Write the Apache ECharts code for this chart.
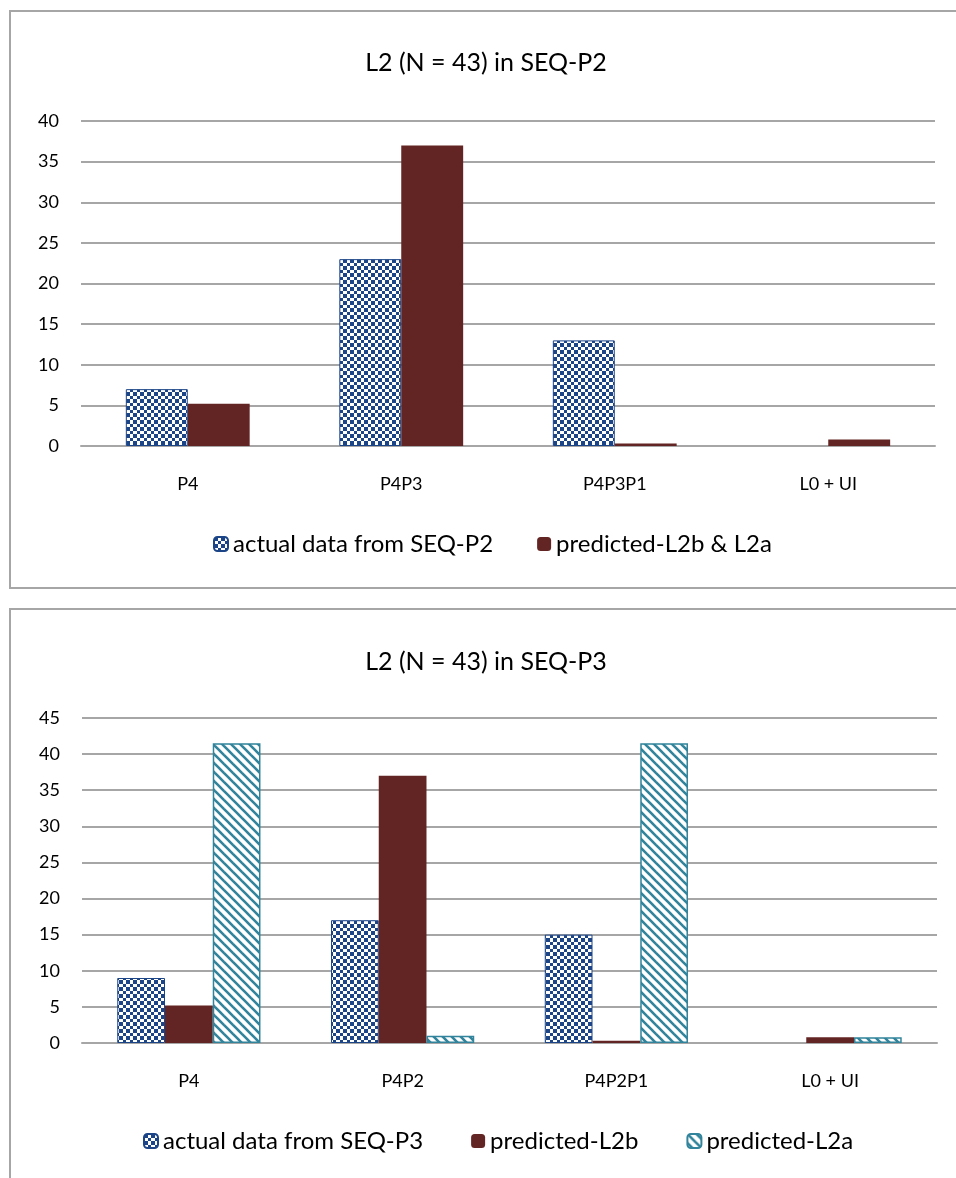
<!DOCTYPE html>
<html>
<head>
<meta charset="utf-8">
<script src="https://cdn.jsdelivr.net/npm/echarts@6/dist/echarts.min.js"></script>
<style>
html,body{margin:0;padding:0;background:#fff;}
#chart{width:956px;height:1178px;}
</style>
</head>
<body>
<div id="chart"></div>
<script>
// ---- data ----
var titles = ['L2 (N = 43) in SEQ-P2', 'L2 (N = 43) in SEQ-P3'];
var categories1 = ['P4', 'P4P3', 'P4P3P1', 'L0 + UI'];
var actual1 = [7, 23, 13, 0];
var predicted1 = [5.2, 37, 0.3, 0.8];
var categories2 = ['P4', 'P4P2', 'P4P2P1', 'L0 + UI'];
var actual2 = [9, 17, 15, 0];
var predictedL2b2 = [5.2, 37, 0.3, 0.8];
var predictedL2a2 = [41.5, 1, 41.5, 0.8];
var yTicks1 = {min: 0, max: 40, interval: 5};
var yTicks2 = {min: 0, max: 45, interval: 5};
var seriesNames1 = ['actual data from SEQ-P2', 'predicted-L2b & L2a'];
var seriesNames2 = ['actual data from SEQ-P3', 'predicted-L2b', 'predicted-L2a'];

// ---- styles ----
var NAVY = '#1c4587', RED = '#632523', TEAL = '#31849b', GRID = '#a6a6a6';
var FONT = 'Lato, "Open Sans", sans-serif';

function checkerPattern() {
  var c = document.createElement('canvas');
  c.width = 7; c.height = 7;
  var g = c.getContext('2d');
  g.fillStyle = '#fff'; g.fillRect(0, 0, 7, 7);
  g.fillStyle = NAVY;
  g.fillRect(0, 0, 4, 4); g.fillRect(4, 4, 3, 3);
  return {image: c, repeat: 'repeat'};
}
function stripePattern() {
  var s = 9;
  var c = document.createElement('canvas');
  c.width = s; c.height = s;
  var g = c.getContext('2d');
  g.fillStyle = '#fff'; g.fillRect(0, 0, s, s);
  g.strokeStyle = TEAL; g.lineWidth = 2.6;
  for (var k = -1; k <= 1; k++) {
    g.beginPath();
    g.moveTo(k * s - 1, -1);
    g.lineTo(k * s + s + 1, s + 1);
    g.stroke();
  }
  return {image: c, repeat: 'repeat'};
}
var checker = checkerPattern();
var stripes = stripePattern();

// hide the outline of zero-height bars
function withBorder(values) {
  return values.map(function (v) {
    return v === 0 ? {value: v, itemStyle: {borderWidth: 0}} : v;
  });
}

var chart = echarts.init(document.getElementById('chart'));

function yAxis(idx, t) {
  return {
    type: 'value', gridIndex: idx, min: t.min, max: t.max, interval: t.interval,
    axisLine: {show: false}, axisTick: {show: false},
    axisLabel: {fontSize: 18, color: '#000', fontFamily: FONT, margin: 22},
    splitLine: {lineStyle: {color: GRID, width: 2}}
  };
}
function xAxis(idx, cats) {
  return {
    type: 'category', gridIndex: idx, data: cats,
    axisLine: {lineStyle: {color: GRID, width: 2}}, axisTick: {show: false},
    axisLabel: {fontSize: 18, color: '#000', fontFamily: FONT, margin: 29}
  };
}
var legendText = {fontSize: 24, color: '#000', fontFamily: FONT};
var titleText = {fontSize: 25, fontWeight: 'normal', color: '#000', fontFamily: FONT};

chart.setOption({
  animation: false,
  graphic: [
    {type: 'rect', shape: {x: 10, y: 11, width: 960, height: 577}, style: {fill: 'none', stroke: GRID, lineWidth: 2}, z: -1},
    {type: 'rect', shape: {x: 10, y: 609, width: 960, height: 600}, style: {fill: 'none', stroke: GRID, lineWidth: 2}, z: -1}
  ],
  title: [
    {text: titles[0], left: 481, top: 45, textAlign: 'center', textStyle: titleText},
    {text: titles[1], left: 481, top: 644, textAlign: 'center', textStyle: titleText}
  ],
  legend: [
    {data: seriesNames1, left: 208, top: 527, itemWidth: 14, itemHeight: 14, itemGap: 44, textStyle: legendText},
    {data: seriesNames2, left: 138, top: 1124, itemWidth: 14, itemHeight: 14, itemGap: 48, textStyle: legendText}
  ],
  grid: [
    {left: 81, right: 21, top: 121, height: 325},
    {left: 82, right: 19, top: 718, height: 325}
  ],
  xAxis: [xAxis(0, categories1), xAxis(1, categories2)],
  yAxis: [yAxis(0, yTicks1), yAxis(1, yTicks2)],
  series: [
    {name: seriesNames1[0], type: 'bar', xAxisIndex: 0, yAxisIndex: 0, data: withBorder(actual1),
     barGap: '0%', barCategoryGap: '42%',
     itemStyle: {color: checker, borderColor: NAVY, borderWidth: 1}},
    {name: seriesNames1[1], type: 'bar', xAxisIndex: 0, yAxisIndex: 0, data: predicted1,
     barGap: '0%', barCategoryGap: '42%',
     itemStyle: {color: RED}},
    {name: seriesNames2[0], type: 'bar', xAxisIndex: 1, yAxisIndex: 1, data: withBorder(actual2),
     barGap: '0%', barCategoryGap: '33%',
     itemStyle: {color: checker, borderColor: NAVY, borderWidth: 1}},
    {name: seriesNames2[1], type: 'bar', xAxisIndex: 1, yAxisIndex: 1, data: predictedL2b2,
     barGap: '0%', barCategoryGap: '33%',
     itemStyle: {color: RED}},
    {name: seriesNames2[2], type: 'bar', xAxisIndex: 1, yAxisIndex: 1, data: predictedL2a2,
     barGap: '0%', barCategoryGap: '33%',
     itemStyle: {color: stripes, borderColor: TEAL, borderWidth: 1.5}}
  ]
});
</script>
</body>
</html>
